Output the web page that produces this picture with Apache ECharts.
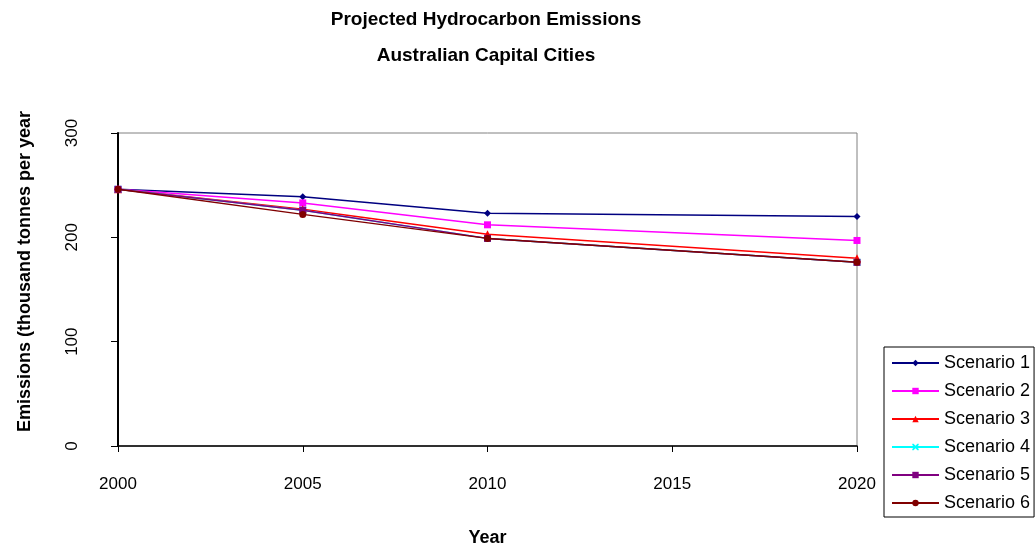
<!DOCTYPE html>
<html>
<head>
<meta charset="utf-8">
<script src="https://cdn.jsdelivr.net/npm/echarts@6/dist/echarts.min.js"></script>
<style>html,body{margin:0;padding:0;background:#fff}#c{width:1035px;height:552px}</style>
</head>
<body>
<div id="c"></div>
<script>
const years = [2000, 2005, 2010, 2020];
const seriesNames = ['Scenario 1','Scenario 2','Scenario 3','Scenario 4','Scenario 5','Scenario 6'];
const scenario1 = [246, 239, 223, 220];
const scenario2 = [246, 233, 212, 197];
const scenario3 = [246, 227, 203, 180];
const scenario4 = [246, 226, 199, 176];
const scenario5 = [246, 226, 199, 176];
const scenario6 = [246, 222, 199, 176];
const yTicks = [0, 100, 200, 300];
const xTicks = [2000, 2005, 2010, 2015, 2020];

const FONT = '"Liberation Sans", Arial, sans-serif';
const colors = ['#000080', '#FF00FF', '#FF0000', '#00FFFF', '#800080', '#800000'];
const symbols = ['diamond', 'rect', 'triangle',
  'path://M0,0 L0.2,0 L0.5,0.3 L0.8,0 L1,0 L1,0.2 L0.7,0.5 L1,0.8 L1,1 L0.8,1 L0.5,0.7 L0.2,1 L0,1 L0,0.8 L0.3,0.5 L0,0.2 Z',
  'rect', 'circle'];
const sizes = [7, 7, 8, 7, 7, 7];
const allData = [scenario1, scenario2, scenario3, scenario4, scenario5, scenario6];

const series = seriesNames.map((n, i) => ({
  name: n,
  type: 'line',
  data: years.map((y, k) => [y, allData[i][k]]),
  symbol: symbols[i],
  symbolSize: sizes[i],
  showAllSymbol: true,
  lineStyle: { color: colors[i], width: 1.5 },
  itemStyle: { color: colors[i] },
  z: 2 + i,
  animation: false
}));

const chart = echarts.init(document.getElementById('c'), null, { renderer: 'canvas' });
chart.setOption({
  animation: false,
  backgroundColor: '#ffffff',
  title: {
    text: 'Projected Hydrocarbon Emissions\nAustralian Capital Cities',
    left: 486,
    top: 2,
    textAlign: 'center',
    padding: 0,
    textStyle: { fontFamily: FONT, fontWeight: 'bold', fontSize: 19, lineHeight: 36, color: '#000' }
  },
  legend: {
    data: seriesNames,
    orient: 'vertical',
    left: 884,
    top: 347,
    padding: [6, 4, 4, 7],
    itemGap: 8,
    itemWidth: 47,
    itemHeight: 8,
    borderColor: '#000',
    borderWidth: 1,
    backgroundColor: '#fff',
    textStyle: { fontFamily: FONT, fontSize: 18, lineHeight: 20, color: '#000' }
  },
  grid: {
    left: 118, right: 178, top: 133, bottom: 105,
    show: true, borderColor: '#808080', borderWidth: 1, backgroundColor: '#fff'
  },
  xAxis: {
    type: 'value',
    min: 2000, max: 2020, interval: 5,
    name: 'Year',
    nameLocation: 'middle',
    nameGap: 83,
    nameTextStyle: { fontFamily: FONT, fontWeight: 'bold', fontSize: 18, color: '#000' },
    axisLine: { show: true, lineStyle: { color: '#000', width: 1.5 } },
    axisTick: { show: true, inside: false, length: 6, lineStyle: { color: '#000' } },
    axisLabel: {
      margin: 30, fontFamily: FONT, fontSize: 17, color: '#000',
      formatter: v => xTicks.includes(v) ? String(v) : ''
    },
    splitLine: { show: false }
  },
  yAxis: {
    type: 'value',
    min: 0, max: 300, interval: 100,
    name: 'Emissions (thousand tonnes per year',
    nameLocation: 'middle',
    nameRotate: 90,
    nameGap: 84,
    nameTextStyle: { fontFamily: FONT, fontWeight: 'bold', fontSize: 18, color: '#000', padding: [0, 0, 0, 36] },
    axisLine: { show: true, lineStyle: { color: '#000', width: 2 } },
    axisTick: { show: true, inside: false, length: 7, lineStyle: { color: '#000' } },
    axisLabel: {
      rotate: 90, margin: 37, fontFamily: FONT, fontSize: 17, color: '#000',
      formatter: v => yTicks.includes(v) ? String(v) : ''
    },
    splitLine: { show: false }
  },
  series: series
});
</script>
</body>
</html>
